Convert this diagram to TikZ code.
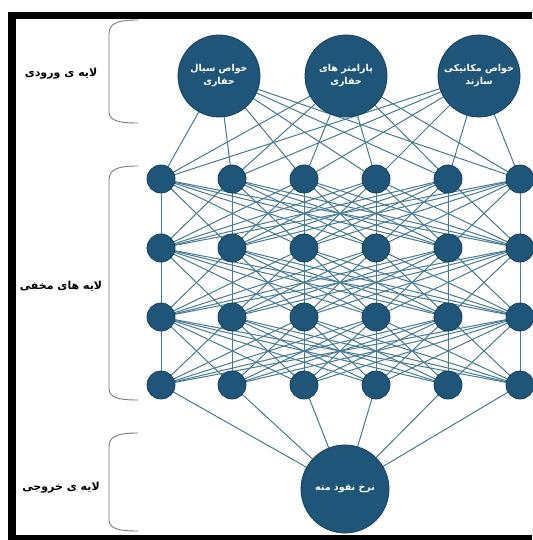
\documentclass[tikz,border=0pt]{standalone}
\usepackage{fontspec}
\usetikzlibrary{backgrounds}
\TeXXeTstate=1
\newfontfamily\fa[Script=Arabic]{DejaVu Sans}
\definecolor{nodeblue}{HTML}{1F5579}
\definecolor{nodeedge}{HTML}{17415E}
\definecolor{edgeblue}{HTML}{457994}
\definecolor{bracegray}{HTML}{7A7A7A}
\tikzset{
  bignode/.style={circle,fill=nodeblue,draw=nodeedge,line width=0.8pt,minimum size=82pt,inner sep=0pt,
    text=white,align=center,font=\fa\bfseries\fontsize{9.5}{13}\selectfont},
  outnode/.style={bignode,minimum size=88pt},
  hidnode/.style={circle,fill=nodeblue,draw=nodeedge,line width=0.8pt,minimum size=28pt,inner sep=0pt},
  conn/.style={draw=edgeblue,line width=1pt},
  bracket/.style={draw=bracegray,line width=0.9pt},
  layerlabel/.style={font=\fa\bfseries\fontsize{11}{13}\selectfont,text=black,inner sep=0pt}
}
\begin{document}
\begin{tikzpicture}[x=1pt,y=-1pt]
\useasboundingbox (0,0) rectangle (532,540);
% frame
\fill[black] (8,12) rectangle (532,19);
\fill[black] (8,12) rectangle (16,540);
\fill[black] (8,535) rectangle (532,540);
% coordinates
\def\colx{{161,232,304,376,448,520}}
\def\rowy{{179,248,317,385}}
% input nodes
\node[bignode] (i1) at (219,76) {\beginR خواص سیال\endR\\\beginR حفاری\endR};
\node[bignode] (i2) at (346,76) {\beginR پارامتر های\endR\\\beginR حفاری\endR};
\node[bignode] (i3) at (479,76) {\beginR خواص مکانیکی\endR\\\beginR سازند\endR};
% output node
\node[outnode] (o) at (345,489) {\beginR نرخ نفوذ مته\endR};
% hidden nodes
\foreach \r in {1,...,4}{
  \foreach \c in {1,...,6}{
    \pgfmathsetmacro{\xx}{\colx[\c-1]}
    \pgfmathsetmacro{\yy}{\rowy[\r-1]}
    \node[hidnode] (h\r\c) at (\xx,\yy) {};
  }
}
% connections behind nodes
\begin{scope}[on background layer]
\foreach \i in {1,2,3}{
  \foreach \c in {1,...,6}{
    \path[conn] (i\i.center) -- (h1\c.center);
  }
}
\foreach \r/\n in {1/2,2/3,3/4}{
  \foreach \a in {1,...,6}{
    \foreach \b in {1,...,6}{
      \path[conn] (h\r\a.center) -- (h\n\b.center);
    }
  }
}
\foreach \c in {1,...,6}{
  \path[conn] (h4\c.center) -- (o.center);
}
\end{scope}
% brackets
\draw[bracket] (138,20) .. controls (116,20) and (109,24) .. (109,34) -- (109,111) .. controls (109,120) and (116,123) .. (138,123);
\draw[bracket] (138,166) .. controls (116,166) and (109,170) .. (109,180) -- (109,388) .. controls (109,397) and (116,400) .. (138,400);
\draw[bracket] (138,433) .. controls (116,433) and (109,437) .. (109,447) -- (109,519) .. controls (109,528) and (116,531) .. (138,531);
% layer labels
\node[layerlabel] (l1) at (61,74) {\beginR لایه ی ورودی\endR};
\node[layerlabel] (l2) at (61,286) {\beginR لایه های مخفی\endR};
\node[layerlabel] (l3) at (61,488) {\beginR لایه ی خروجی\endR};
\end{tikzpicture}
\end{document}
